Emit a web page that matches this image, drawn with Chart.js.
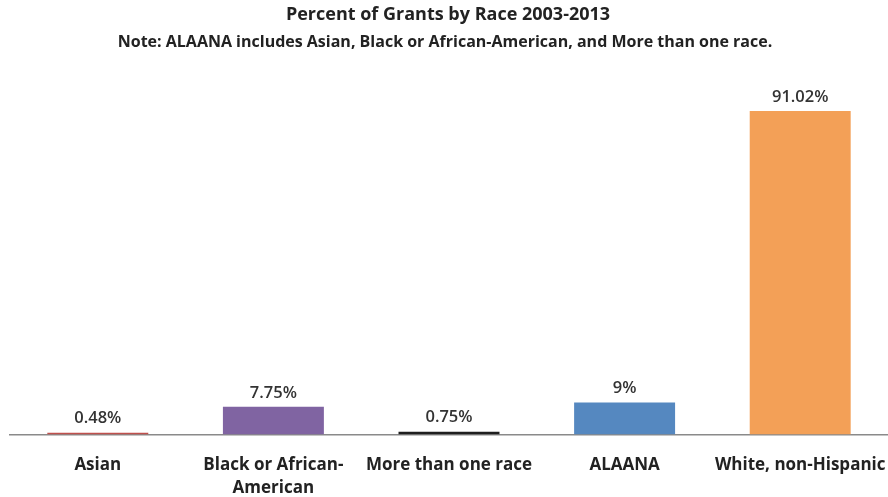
<!DOCTYPE html>
<html>
<head>
<meta charset="utf-8">
<script src="https://cdn.jsdelivr.net/npm/chart.js@4.4.0/dist/chart.umd.min.js"></script>
<style>
html,body{margin:0;padding:0;background:#fff;}
#wrap{width:888px;height:497px;}
</style>
</head>
<body>
<div id="wrap"><canvas id="c" width="888" height="497"></canvas></div>
<script>
const categories = ["Asian", ["Black or African-", "American"], "More than one race", "ALAANA", "White, non-Hispanic"];
const percentValues = [0.48, 7.75, 0.75, 9, 91.02];
const valueLabels = ["0.48%", "7.75%", "0.75%", "9%", "91.02%"];
const barColors = ["#c0504d", "#8064a2", "#1e1e1e", "#5588c0", "#f3a057"];
const titleText = "Percent of Grants by Race 2003-2013";
const subtitleText = "Note: ALAANA includes Asian, Black or African-American, and More than one race.";

const labelPlugin = {
  id: 'valLabels',
  afterDatasetsDraw(chart) {
    const ctx = chart.ctx;
    const meta = chart.getDatasetMeta(0);
    ctx.save();
    ctx.font = '600 16.5px "Open Sans", sans-serif';
    ctx.fillStyle = '#333';
    ctx.textAlign = 'center';
    ctx.textBaseline = 'middle';
    meta.data.forEach((bar, i) => {
      ctx.fillText(valueLabels[i], bar.x, bar.y - 14);
    });
    ctx.restore();
  }
};
const titlePlugin = {
  id: 'titles',
  afterDraw(chart) {
    const ctx = chart.ctx;
    ctx.save();
    ctx.fillStyle = '#222';
    ctx.textAlign = 'center';
    ctx.textBaseline = 'middle';
    ctx.font = 'bold 18px "Open Sans", sans-serif';
    ctx.fillText(titleText, 448, 15);
    ctx.font = 'bold 16px "Open Sans", sans-serif';
    ctx.fillText(subtitleText, 445, 42);
    ctx.restore();
  }
};

new Chart(document.getElementById('c'), {
  type: 'bar',
  data: {
    labels: categories,
    datasets: [{
      data: percentValues,
      backgroundColor: barColors,
      borderWidth: 0,
      barPercentage: 0.575,
      categoryPercentage: 1.0
    }]
  },
  options: {
    responsive: false,
    animation: false,
    devicePixelRatio: 1,
    layout: { padding: { top: 79, left: 10, right: 0, bottom: -22 } },
    plugins: { legend: { display: false }, tooltip: { enabled: false }, title: { display: false } },
    scales: {
      y: { display: false, min: 0, max: 100 },
      x: {
        grid: { display: false, drawTicks: false },
        border: { display: true, color: '#8a8a8a', width: 1.5 },
        afterFit(scale) { scale.paddingRight = 0; scale.paddingLeft = 0; },
        ticks: {
          color: '#222',
          padding: 19,
          maxRotation: 0,
          autoSkip: false,
          font: { family: '"Open Sans", sans-serif', size: 17, weight: 'bold', lineHeight: 1.37 }
        }
      }
    }
  },
  plugins: [labelPlugin, titlePlugin]
});
</script>
</body>
</html>
